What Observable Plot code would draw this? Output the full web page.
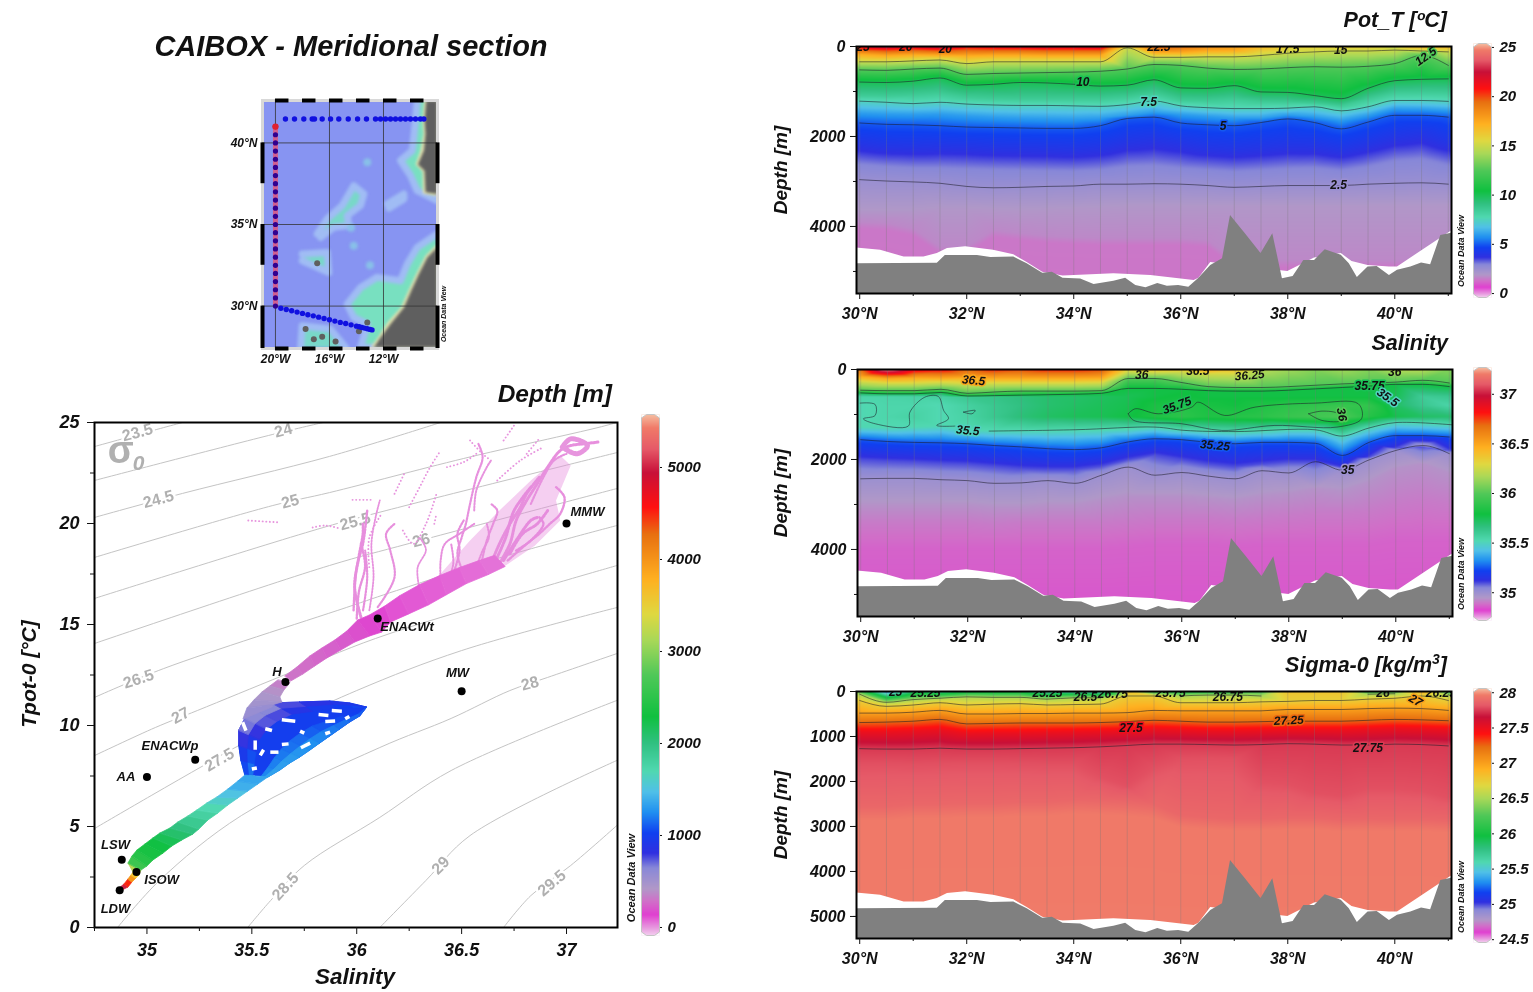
<!DOCTYPE html>
<html><head><meta charset="utf-8">
<script src="https://cdn.jsdelivr.net/npm/d3@7"></script>
<script src="https://cdn.jsdelivr.net/npm/@observablehq/plot@0.6"></script>
<style>
html,body{margin:0;background:#fff}
#page{position:relative;width:1533px;height:992px;overflow:hidden;background:#fff;font-family:"Liberation Sans",Arial,sans-serif;font-weight:bold;font-style:italic;color:#111;filter:blur(.35px)}
#page svg{position:absolute;background:transparent;overflow:visible}
.t{position:absolute;white-space:nowrap;line-height:1}
</style></head><body><div id="page"></div>
<script>
// ---------- shared colour ramp (fraction of colour bar -> colour) ----------
const rampAt=[0,.013,.04,.066,.09,.13,.158,.197,.237,.276,.316,.37,.42,.5,.566,.618,.684,.77,.822,.888,.934,.974,1];
const rampColor=["#f4d0f0","#e8a0e0","#e040d0","#d070c8","#b098c8","#8888d8","#3030e0","#1040f0","#2090f0","#50c0e8","#50d8b0","#30c080","#10c040","#50c858","#a8d858","#e0d840","#ffb020","#e87010","#ff1010","#c81038","#e65a68","#f07a68","#f5bda0"];
const fontCss={fontFamily:'"Liberation Sans",Arial,sans-serif',fontWeight:"bold",fontStyle:"italic",color:"#111",background:"transparent"};

// ---------- section stations ----------
const lats=[30,30.5,31,31.5,32,32.5,33,33.5,34,34.5,35,35.5,36,36.5,37,37.5,38,38.5,39,39.5,40,40.5,41];
const seabedLat=[29.94,31.45,31.6,32.2,32.45,32.88,33.13,33.42,33.6,33.8,34.13,34.38,34.75,34.97,35.16,35.35,35.57,35.75,35.96,36.15,36.34,36.56,36.78,36.93,37.2,37.5,37.72,37.9,38.1,38.3,38.5,38.7,39,39.15,39.3,39.5,39.67,39.9,40.05,40.3,40.5,40.67,40.86,41.06];
const seabedDepth=[4830,4815,4644,4644,4690,4680,4830,5040,5020,5150,5165,5290,5220,5150,5310,5360,5270,5330,5310,5350,5150,4870,4720,3756,4150,4600,4160,5160,5110,4755,4755,4515,4640,4830,5135,4900,4890,5090,4975,4900,4810,4850,4200,4150];
const dataEndLat=[29.94,30.39,30.83,31.2,31.45,31.64,31.98,32.5,32.88,33.13,33.42,33.8,34.75,35.44,36.25,36.34,36.56,38,38.5,39,39.2,39.5,39.9,40.05,41.06];
const dataEndDepth=[4480,4530,4680,4680,4600,4490,4450,4530,4630,4800,5020,5100,5050,5090,5200,5150,4800,5000,4700,4600,4780,4870,4900,4900,4100];

// ---------- potential temperature: surface value + depth of each isotherm per station ----------
const tSurface=[21,23,22,23,21,21.5,22,22.5,22,22.5,15.5,20,19.5,18.5,18,17,16,16,16,16,15,17,17];
const t20=[70,90,70,90,60,70,70,80,80,80,null,null,null,null,null,null,null,null,null,null,null,null,null];
const t175=[170,200,180,190,200,190,190,200,200,200,null,130,130,90,80,null,null,null,null,null,null,null,null];
const t15=[340,340,320,300,380,340,340,340,340,340,30,240,240,230,230,200,150,120,100,100,80,100,120];
const t125=[520,530,500,480,620,600,590,580,570,550,500,400,420,480,510,500,470,450,460,440,380,200,420];
const t10=[790,800,770,700,860,840,800,810,840,880,860,740,920,930,870,1010,1020,1090,1160,930,760,730,720];
const t85=[1090,1100,1080,1040,1130,1160,1170,1170,1170,1170,1130,1040,1200,1210,1170,1230,1240,1260,1320,1170,1030,1020,1030];
const t75=[1215,1240,1270,1240,1280,1300,1310,1310,1320,1330,1290,1210,1320,1360,1380,1380,1370,1340,1430,1340,1200,1200,1220];
const t6=[1480,1500,1510,1500,1540,1570,1590,1600,1610,1590,1530,1460,1510,1550,1590,1590,1520,1560,1640,1530,1380,1390,1420];
const t5=[1700,1730,1740,1760,1790,1800,1810,1820,1820,1760,1600,1570,1700,1740,1760,1690,1610,1690,1830,1680,1530,1530,1570];
const t4=[2180,2250,2260,2240,2250,2280,2290,2300,2320,2280,2150,2100,2180,2280,2320,2280,2230,2240,2330,2200,2050,1980,2170];
const t3=[2600,2650,2680,2680,2700,2720,2730,2740,2750,2720,2640,2620,2680,2720,2760,2730,2690,2680,2740,2650,2520,2480,2620];
const t25=[2960,2990,3010,3040,3110,3140,3130,3110,3100,3060,3060,3050,3060,3090,3130,3110,3090,3090,3090,3060,3040,3030,3060];
const t2=[3650,3650,3650,3600,3600,3620,3640,3620,3600,3580,3550,3550,3550,3550,3550,3550,3550,3550,3550,3550,3550,3550,3550];
const tDeepUpper=[3900,3930,4050,4450,4450,4080,4150,4210,4240,4260,4260,4260,4260,4300,4750,4750,4750,4750,4750,4750,4750,4750,4750];
const tDeepLower=[4050,4080,4200,4600,4600,4230,4300,4360,4390,4410,4410,4410,4410,4450,4900,4900,4900,4900,4900,4900,4900,4900,4900];
const tLabelText=["25","20","20","22.5","17.5","15","12.5","10","7.5","5","2.5"];
const tLabelLat=[30.06,30.86,31.6,35.59,38,38.99,40.58,34.17,35.4,36.79,38.95];
const tLabelDepth=[22,22,67,22,67,89,222,800,1244,1778,3089];
const tLabelRot=[0,0,0,0,0,0,-35,0,0,0,0];

// ---------- salinity ----------
const sSurface=[36.7,37.2,36.9,36.85,36.7,36.8,36.75,36.8,36.8,36.75,36.3,36.4,36.35,36.5,36.4,36.2,36.15,36.1,36.15,36.1,36.2,36.2,36.1];
const s365=[150,200,180,190,170,190,190,190,190,180,null,null,null,null,null,null,null,null,null,null,null,null,null];
const s3625=[280,320,320,300,330,320,320,320,320,310,50,70,60,110,120,null,null,null,null,null,null,null,null];
const s36=[460,470,470,440,530,500,480,480,480,470,200,200,290,380,400,400,380,350,320,300,280,240,300];
const s3575=[520,540,540,510,590,580,570,560,550,530,420,420,440,470,480,480,460,430,400,370,330,330,380];
const sAt600=[35.55,35.55,35.56,35.57,35.62,35.64,35.67,35.7,35.71,35.73,35.75,35.78,35.8,35.78,35.78,35.78,35.78,35.78,35.78,35.78,35.75,35.6,35.62];
const sAt800=[35.52,35.54,35.54,35.52,35.57,35.62,35.66,35.7,35.72,35.74,35.76,35.82,35.86,35.82,35.8,35.84,35.88,35.9,35.92,35.9,35.72,35.62,35.55];
const sAt1050=[35.52,35.54,35.56,35.52,35.56,35.62,35.68,35.72,35.74,35.75,35.78,35.84,35.88,35.84,35.86,35.88,35.92,35.95,35.98,35.86,35.76,35.72,35.7];
const s355=[1280,1300,1280,1260,1330,1370,1370,1370,1360,1350,1330,1290,1350,1380,1400,1380,1340,1340,1480,1300,1180,1200,1230];
const s3525=[1560,1600,1620,1630,1650,1690,1720,1760,1780,1740,1610,1540,1560,1620,1650,1620,1620,1640,1910,1620,1470,1470,1500];
const s351=[2000,2030,2050,2080,2100,2150,2200,2220,2220,2150,2000,1900,2000,2100,2160,2100,2050,2050,2180,1950,1750,1720,1800];
const s35=[2430,2420,2420,2450,2470,2530,2520,2470,2530,2350,2170,2350,2290,2370,2430,2250,2300,2050,2240,2010,1800,1690,1870];
const s3494=[3000,3000,3000,3000,3000,3050,3050,3000,3000,2900,2800,2800,2800,2850,2900,2800,2750,2650,2700,2500,2200,2100,2300];
const s3489=[3400,3400,3400,3400,3400,3450,3400,3400,3400,3400,3350,3300,3300,3300,3350,3300,3250,3200,3200,3150,3000,2900,3000];
const s3486=[4000,4000,4000,4000,4000,4000,4000,4000,4000,4000,3950,3900,3900,3900,3950,3900,3900,3900,3900,3900,3800,3800,3800];
const sLoop355=[[29.99,747],[30.27,777],[30.27,1021],[30.05,1095],[30.27,1206],[30.89,1258],[30.92,947],[31.2,614],[31.45,599],[31.55,910],[31.64,1095],[31.42,1243],[31.76,1258]];
const sLine355=[[32.4,1369],[34.01,1339],[35.5,1280],[36.06,1354],[37,1380],[38.5,1340],[39,1480],[39.5,1300],[40,1180],[41.06,1230]];
const sLoop3575=[[35,984],[35.13,873],[35.56,984],[36.19,836],[36.3,725],[36.8,1021],[37.37,836],[38.5,747],[39.3,762],[39.36,1095],[38.9,1280],[37.74,1243],[36.75,1354],[36,1206],[35.1,1130],[35,984]];
const sLoop36=[[38.37,984],[38.62,925],[38.93,984],[38.99,1132],[38.62,1132],[38.37,984]];
const sLoopSmall=[[31.92,947],[32.14,910],[32.08,984],[31.92,947]];
const sLabelText=["36.5","36","36.5","36.25","35.75","35.75","35.5","36","36","35.5","35.25","35"];
const sLabelLat=[32.11,35.25,36.3,37.27,35.91,39.51,39.85,39.98,38.99,32,36.62,39.1];
const sLabelDepth=[244,133,44,133,800,378,622,67,1000,1356,1689,2244];
const sLabelRot=[5,0,0,-5,-20,0,35,0,80,5,5,0];

// ---------- sigma-0 ----------
const gSurface=[26.3,25.3,25.8,25.7,25.9,25.9,25.9,25.6,25.6,25.5,26.8,26.1,26,26,26,26.2,26.8,26.8,26.8,26.1,26.2,26.9,26.1];
const g265=[60,240,180,150,120,130,130,170,140,140,null,null,100,80,80,100,null,null,null,60,50,null,70];
const g2675=[200,330,300,250,300,280,270,300,290,280,100,100,250,250,250,230,220,200,200,170,150,100,200];
const g270=[480,480,460,420,500,500,490,490,480,480,470,420,430,430,430,430,400,400,400,380,370,380,420];
const g2725=[690,680,660,620,720,710,700,700,700,690,670,640,660,680,680,670,660,660,660,640,620,630,650];
const g275=[900,900,880,850,930,920,920,910,900,890,880,840,860,880,880,870,860,860,860,840,820,830,850];
const g2775=[1270,1280,1280,1260,1280,1280,1270,1260,1250,1230,1200,1170,1170,1180,1190,1180,1160,1170,1190,1190,1170,1180,1210];
const g278=[1610,1600,1620,1600,1590,1590,1600,1620,1620,1900,2100,1700,1500,1480,1500,2000,2050,2250,2320,2150,2150,2200,2350];
const g2788=[2550,2550,2500,2500,2480,2480,2450,2450,2400,2420,2450,2500,2750,2800,2830,2830,2800,2800,2850,2830,2840,2840,2870];
const g2795=[2850,2850,2800,2800,2780,2780,2750,2750,2700,2720,2750,2800,3000,3050,3080,3080,3050,3050,3100,3080,3090,3090,3120];
const gLabelText=["25","25.25","25.25","26.5","26.75","25.75","26.75","27.25","27.5","27.75","26","27","26.25"];
const gLabelLat=[30.67,31.23,33.51,34.22,34.73,35.81,36.88,38.02,35.07,39.5,39.78,40.39,40.86];
const gLabelDepth=[22,44,44,133,66,44,133,644,822,1267,44,200,44];
const gLabelRot=[0,0,0,0,0,0,0,-3,0,0,0,30,0];

// ---------- T-S diagram: isopycnals [salinity, temperature] ----------
const iso235=[[34.75,23.81],[35.08,24.75],[35.17,25]];
const iso24=[[34.75,22.13],[35.6,24.41],[35.84,25]];
const iso245=[[34.75,20.3],[35.17,21.49],[35.87,23.32],[36.4,25]];
const iso25=[[34.75,18.32],[35.6,20.89],[35.87,21.53],[36.51,23.22],[37.15,24.75],[37.24,25]];
const iso255=[[34.75,16.29],[35.84,19.8],[36.14,20.64],[37.24,23.51]];
const iso26=[[34.75,14.06],[35.87,17.92],[36.25,19.01],[37.24,21.73]];
const iso265=[[34.75,11.39],[35.08,12.82],[35.95,15.84],[36.19,16.68],[36.72,18.42],[37.24,19.9]];
const iso27=[[34.75,8.51],[35.04,9.9],[35.24,10.74],[35.65,12.48],[36.09,14.31],[36.72,16.34],[37.24,17.92]];
const iso275=[[34.75,4.9],[35.02,6.53],[35.27,8.02],[35.43,8.96],[36,11.73],[36.5,13.71],[37.24,15.84]];
const iso28=[[34.86,0],[35.06,2.33],[35.45,5.54],[36.11,8.91],[36.45,10.35],[36.73,11.73],[36.91,12.38],[37.24,13.56]];
const iso285=[[35.48,0],[35.59,1.34],[35.75,3.07],[36.11,5.45],[36.45,7.77],[37.24,11.24]];
const iso29=[[36.11,0],[36.33,2.33],[36.54,4.55],[37.24,8.27]];
const iso295=[[36.7,0],[36.83,1.58],[37.02,3.07],[37.24,5.05]];
const isoLabelText=["23.5","24","24.5","25","25.5","26","26.5","27","27.5","28","28.5","29","29.5"];
const isoLabelS=[34.955,35.65,35.055,35.683,35.993,36.307,34.96,35.16,35.345,36.826,35.66,36.4,36.93];
const isoLabelT=[24.5,24.6,21.2,21.09,20.1,19.17,12.3,10.49,8.3,12.08,2.03,3.07,2.2];
const isoLabelRot=[-15,-15,-15,-15,-15,-15,-18,-28,-30,-15,-48,-45,-40];

// water masses
const massName=["MMW","ENACWt","H","MW","ENACWp","AA","LSW","ISOW","LDW"];
const massS=[37,36.1,35.66,36.5,35.23,35,34.88,34.95,34.87];
const massT=[20,15.3,12.15,11.7,8.3,7.45,3.35,2.75,1.85];
const massLabelS=[37.1,36.24,35.62,36.48,35.11,34.9,34.85,35.07,34.85];
const massLabelT=[20.6,14.9,12.67,12.62,9,7.48,4.1,2.38,.94];

// T-S cloud: cross sections of the dense ribbon [S1,T1,S2,T2,depth]
const ribbonDeep=[
[34.864,1.88,34.883,1.83,5000],[34.893,2.13,34.912,1.98,4500],[34.912,2.38,34.931,2.23,4000],[34.926,2.57,34.95,2.43,3600],[34.936,2.72,34.964,2.57,3200],
[34.912,3.17,34.974,2.82,2600],[34.931,3.51,35.002,3.02,2450],[34.955,3.81,35.031,3.32,2350],[34.993,4.11,35.079,3.66,2280],[35.031,4.41,35.121,4.01,2200],
[35.064,4.65,35.169,4.31,2100],[35.112,4.9,35.221,4.6,2000],[35.15,5.2,35.25,4.85,1900],[35.198,5.5,35.293,5.3,1800],[35.24,5.79,35.34,5.64,1700],
[35.288,6.14,35.388,6.04,1600],[35.336,6.44,35.436,6.39,1500],[35.388,6.83,35.483,6.73,1400],[35.436,7.23,35.531,7.08,1350],[35.469,7.52,35.579,7.43,1300]];
const ribbonNeck=[[35.626,12.23,35.683,12.08,340],[35.588,11.93,35.655,11.73,400],[35.55,11.63,35.636,11.39,450],[35.512,11.24,35.645,11.14,500],[35.479,10.84,35.598,10.99,560],[35.46,10.3,35.6,10.9,620]];
const ribbonPink=[
[35.66,12.43,35.688,12.18,300],[35.717,12.87,35.745,12.52,280],[35.779,13.42,35.802,12.92,260],[35.836,13.81,35.86,13.32,240],[35.898,14.21,35.926,13.71,220],
[35.955,14.65,35.993,14.11,190],[36.007,15.2,36.064,14.41,160],[36.064,15.45,36.121,14.6,130],[36.136,15.89,36.164,15.1,110],[36.207,16.4,36.25,15.5,100],
[36.302,16.95,36.345,15.95,90],[36.398,17.4,36.43,16.45,80],[36.493,17.8,36.525,17,70],[36.588,18.15,36.63,17.45,60],[36.66,18.4,36.71,17.85,50]];
// blob outline pairs [lowerS,lowerT,upperS,upperT] and depth along its lower and upper edges
const blobEdge=[[35.58,7.43,35.469,7.52],[35.636,7.77,35.45,8.26],[35.683,8.12,35.44,9],[35.73,8.41,35.44,9.75],[35.779,8.76,35.469,10.34],[35.826,9.11,35.517,10.74],[35.874,9.46,35.598,11.09],[35.921,9.8,35.73,11.14],[35.969,10.15,35.874,11.19],[36.017,10.45,35.969,11.09],[36.05,10.89,36.05,10.89]];
const blobLowerDepth=[1340,1320,1300,1280,1260,1230,1200,1170,1140,1110,1080];
const blobUpperDepth=[1050,950,800,680,620,640,760,850,900,930,950];
const blobHoles=[[35.643,10.28,35.707,10.21],[35.818,10.54,35.865,10.5],[35.881,10.74,35.929,10.71],[35.85,10.2,35.897,10.22],[35.945,10.33,35.965,10.45],[35.456,10.16,35.472,9.75],[35.516,9.26,35.516,8.8],[35.54,8.52,35.556,8.8],[35.588,8.68,35.627,8.68],[35.643,9.06,35.675,9.09],[35.734,8.9,35.778,9.13],[35.73,9.72,35.75,9.62],[35.564,9.84,35.596,9.75],[35.85,9.59,35.873,9.67],[35.5,7.85,35.524,7.9]];
// surface fan filaments [S,T]
const fanMass=[[36.35,16.93],[36.54,19.16],[36.68,20.64],[36.83,22.13],[36.97,23.37],[37.02,22.87],[36.95,21.14],[36.97,20.15],[36.85,18.91],[36.71,17.92]];
const fanF1=[[36.67,17.84],[36.73,18.99],[36.76,20.15],[36.81,21.14],[36.86,21.96],[36.91,22.79],[36.97,23.61],[37.02,23.86],[37.08,23.94],[37.15,24.03]];
const fanF2=[[36.72,18.17],[36.81,18.99],[36.87,19.49],[36.92,19.98],[36.97,20.48],[36.99,21.3],[36.95,21.8]];
const fanF3=[[36.64,18],[36.68,18.99],[36.73,19.98],[36.78,20.81],[36.81,21.47],[36.87,22.29]];
const fanF4=[[36.7,18.17],[36.76,19.16],[36.83,20.15],[36.86,20.3]];
const fanF5=[[36.51,17.51],[36.48,18.5],[36.5,19.3],[36.52,19.98],[36.54,20.97],[36.57,22.29],[36.6,23.28],[36.58,23.94]];
const fanF6=[[36.4,17.18],[36.4,18.17],[36.42,18.99],[36.49,19.49],[36.56,19.98]];
const fanF7=[[36.59,17.84],[36.62,19.16],[36.65,19.98],[36.67,20.64],[36.64,20.97]];
const fanF8=[[36.02,15.37],[35.99,16.85],[36.01,18.33],[36.03,19.49],[36.03,19.98]];
const fanF9=[[36.06,15.7],[36.08,17.34],[36.07,18.99],[36.09,20.31],[36.11,21.14]];
const fanF10=[[36.1,15.86],[36.18,17.34],[36.16,18.66],[36.14,19.49],[36.18,19.98]];
const fanF11=[[36.73,18.5],[36.79,19.49],[36.86,19.98],[36.91,20.64]];
const fanF12=[[36.67,18.33],[36.71,19.3],[36.75,20.64],[36.83,21.8]];
const fanF13=[[36.98,23.78],[37.05,23.45],[37.1,23.86],[37.02,24.19],[36.98,23.78]];
const fanF14=[[36.3,16.7],[36.29,17.8],[36.33,18.7],[36.3,19.3]];
const fanF15=[[36,15.3],[36.01,16.6],[36.04,17.9],[36.02,19]];
const fanF16=[[36.57,17.84],[36.6,18.66],[36.63,19.32],[36.62,19.98]];
const fanF17=[[36.76,18.66],[36.83,19.16],[36.89,19.98],[36.87,20.31]];
const fanF18=[[36.83,20.97],[36.89,22.29],[36.94,23.12],[37,23.45]];
const fanF19=[[36.46,17.51],[36.49,18.66],[36.48,19.49],[36.51,20.15]];
const fanF20=[[36.43,17.01],[36.46,18],[36.45,18.99]];
const fanF21=[[35.985,15.7],[36,17.84],[36.03,18.99],[36.05,20.64]];
const fanF22=[[36.03,15.7],[36.05,17.34],[36.04,18.66]];
const fanF23=[[36.56,20.64],[36.57,21.63],[36.62,22.79],[36.64,23.12]];
const dotD1=[[36.18,21.47],[36.23,22.54]];
const dotD2=[[36.25,20.81],[36.3,21.8],[36.35,22.79],[36.4,23.61]];
const dotD3=[[36.22,19.65],[36.27,18.99],[36.33,19.98],[36.38,21.47]];
const dotD4=[[36.37,19.98],[36.38,20.48]];
const dotD5=[[36.54,24.11],[36.6,23.45],[36.64,23.12]];
const dotD6=[[36.7,24.11],[36.75,24.85]];
const dotD7=[[36.81,23.45],[36.87,24.2]];
const dotD8=[[36.67,22.13],[36.78,23.12],[36.89,23.78]];
const dotD9=[[36.43,22.79],[36.51,23.04],[36.57,23.45]];
const dotD10=[[35.98,21.17],[36.07,21.17]];
const dotD11=[[35.483,20.15],[35.636,20.05]];
const dotD12=[[35.79,19.8],[35.85,19.9],[35.92,19.75]];
const dotD13=[[36.06,17.84],[36.06,19.3],[36.12,20.5]];

// ---------- station map ----------
const topRowLon=[-19.26,-18.59,-17.9,-17.28,-17.11,-16.54,-15.92,-15.31,-14.61,-13.92,-13.26,-12.59,-12.22,-11.85,-11.48,-11.11,-10.74,-10.37,-10,-9.63,-9.26,-9.01];
const meridianLat=[41,40.5,40,39.5,39,38.5,38,37.5,37,36.5,36,35.5,35,34.5,34,33.5,33,32.5,32,31.5,31,30.5,30];
const slantLon=[-19.6,-19.2,-18.8,-18.4,-18,-17.6,-17.2,-16.8,-16.4,-16,-15.6,-15.2,-14.8,-14.4,-14,-13.8,-13.6,-13.4,-13.2,-13,-12.85];
const slantLat=[29.87,29.79,29.71,29.63,29.55,29.47,29.4,29.32,29.24,29.16,29.08,29,28.93,28.85,28.77,28.73,28.69,28.65,28.61,28.57,28.54];
const iberia=[[-8.84,42.6],[-8.96,41.37],[-8.89,40.55],[-9.01,39.53],[-9.45,38.67],[-8.96,38.3],[-8.89,36.97],[-8.02,36.87],[-8.02,42.6]];
const africa=[[-8.02,33.6],[-8.76,32.98],[-9.38,31.96],[-9.95,30.94],[-10.49,29.92],[-11.48,28.9],[-12.22,28.08],[-12.71,27.46],[-8.02,27.46]];
const africaPale=[[-8.02,33.8],[-8.88,33.08],[-9.55,32],[-10.15,30.94],[-10.7,29.92],[-11.7,29],[-12.4,28.08],[-12.95,27.46],[-8.02,27.46]];
const africaShelf=[[-8.02,34.42],[-9.5,33.6],[-10.24,32.58],[-10.74,31.55],[-12.47,31.76],[-13.7,31.14],[-14.69,30.12],[-14.2,29.3],[-13.2,28.89],[-13.7,27.46],[-8.02,27.46]];
const iberiaPale=[[-8.98,42.6],[-9.1,41.37],[-9.03,40.55],[-9.25,39.53],[-9.62,38.67],[-9.1,38.25],[-9.07,36.9],[-8.02,36.75],[-8.02,42.6]];
const iberiaShelf=[[-9.5,42.6],[-9.63,41.37],[-9.87,39.53],[-10.74,38.92],[-10,38],[-9.5,37.07],[-8.02,36.46],[-8.02,42.6]];
const gorringe=[[-11.72,36.26],[-10.49,36.87],[-10.49,36.56],[-11.6,36]];
const josephine=[[-16.91,34.42],[-16.17,35.34],[-15.06,36.16],[-14.2,37.38],[-13.45,36.87],[-13.7,36.16],[-14.69,35.54],[-14.56,34.93],[-15.68,34.83],[-16.66,34.21]];
const madeiraShelf=[[-18.02,33.19],[-16.17,33.29],[-16.05,32.06],[-17.16,32.47],[-18.02,32.78]];
const canaryShelf=[[-18.14,27.46],[-18.02,28.79],[-15.92,28.59],[-14.81,27.46]];
const islands=[[-16.91,32.62],[-17.77,28.59],[-17.16,27.97],[-16.54,28.12],[-15.55,27.83],[-13.82,28.45],[-13.2,29]];
const shoals=[[-13.2,38.81],[-14.2,33.7],[-13,32.5],[-14.4,34.8]];

// ---------- helpers ----------
const page=document.getElementById("page");
function put(svg){
  svg.querySelectorAll("text").forEach(n=>{if(n.textContent.includes("\u26a0"))n.remove();});
  page.appendChild(svg);
}
function text(html,x,y,size,{anchor="left",rotate=0,color="#111"}={}){
  const el=document.createElement("div");el.className="t";el.innerHTML=html;
  el.style.left=x+"px";el.style.top=y+"px";el.style.fontSize=size+"px";el.style.color=color;
  const tx=anchor==="center"?"-50%":anchor==="right"?"-100%":"0";
  el.style.transform=`translate(${tx},-50%) rotate(${rotate}deg)`;
  page.appendChild(el);
}
const colorScale=(lo,hi)=>({type:"linear",domain:rampAt.map(t=>lo+t*(hi-lo)),range:rampColor,clamp:true});
// edge stations are repeated just outside the frame so the raster has no extrapolated rim
const samples=rows=>rows.flatMap(({d,v})=>lats.flatMap((lat,i)=>{
  const depth=typeof d==="number"?d:d[i];const val=typeof v==="number"?v:v[i];
  if(depth==null) return [];
  const out=[{lat,depth,v:val}];
  if(i===0) out.push({lat:29.8,depth,v:val});
  if(i===lats.length-1) out.push({lat:41.2,depth,v:val});
  return out;}));

function colorbar({left,top,h,lo,hi,ticks}){
  const c=(hi-lo)*3.5/h, w=18;
  const corner=(pts)=>Plot.line(pts,{x:p=>p[0],y:p=>p[1],fill:"#fff",stroke:"none"});
  put(Plot.plot({width:w+62,height:h+8,marginLeft:0,marginRight:62,marginTop:4,marginBottom:4,
    style:{...fontCss,left:left+"px",top:(top-4)+"px",fontSize:"15px"},
    x:{domain:[0,1],axis:null},y:{domain:[lo,hi]},color:colorScale(lo,hi),
    marks:[
      Plot.raster({x1:0,x2:1,y1:lo,y2:hi,fill:(x,y)=>y}),
      corner([[0,hi],[.28,hi],[0,hi-c]]),corner([[1,hi],[.72,hi],[1,hi-c]]),
      corner([[0,lo],[.28,lo],[0,lo+c]]),corner([[1,lo],[.72,lo],[1,lo+c]]),
      Plot.line([[0,hi-c],[.28,hi],[.72,hi],[1,hi-c],[1,lo+c],[.72,lo],[.28,lo],[0,lo+c],[0,hi-c]],{x:p=>p[0],y:p=>p[1],stroke:"#c4c4c4",strokeWidth:1}),
      Plot.axisY({anchor:"right",ticks,tickSize:2,tickPadding:6,tickFormat:d=>String(d),label:null,fill:"#111"})
    ]}));
}

function section({left,top,lo,hi,rows,contours,extra=[],labels,barTicks}){
  const W=595,H=247;
  const [lt,la,ld,lr]=labels;
  const labelRows=lt.map((s,i)=>({s,lat:la[i],depth:ld[i],rot:lr[i]}));
  put(Plot.plot({width:W+70,height:H+50,marginLeft:60,marginRight:10,marginTop:10,marginBottom:40,
    style:{...fontCss,left:(left-60)+"px",top:(top-10)+"px",fontSize:"16px"},
    x:{domain:[29.94,41.06],label:null},y:{domain:[5490,0],label:null},color:colorScale(lo,hi),
    marks:[
      Plot.raster(samples(rows),{x:"lat",y:"depth",fill:"v",interpolate:"barycentric"}),
      Plot.ruleX(lats,{y1:0,y2:5490,stroke:"#777",strokeOpacity:.3,strokeWidth:1}),
      ...contours.map(a=>Plot.line(a.map((d,i)=>({lat:lats[i],d})),{x:"lat",y:"d",stroke:"#1c1c28",strokeOpacity:.55,strokeWidth:1,curve:"monotone-x"})),
      ...extra.map(a=>Plot.line(a,{x:p=>p[0],y:p=>p[1],stroke:"#1c1c28",strokeOpacity:.55,strokeWidth:1,curve:"catmull-rom"})),
      Plot.areaY(dataEndLat.map((x,i)=>({x,y:dataEndDepth[i]})),{x:"x",y1:"y",y2:()=>5490,fill:"#fff"}),
      Plot.areaY(seabedLat.map((x,i)=>({x,y:seabedDepth[i]})),{x:"x",y1:"y",y2:()=>5490,fill:"#808080"}),
      Plot.text(labelRows.filter(d=>d.depth>=200),{x:"lat",y:"depth",text:"s",rotate:"rot",fill:"#111",stroke:d=>+d.s,strokeWidth:3,fontSize:12,clip:"frame"}),
      Plot.text(labelRows.filter(d=>d.depth<200),{x:"lat",y:"depth",text:"s",rotate:"rot",fill:"#111",fontSize:12,clip:"frame"}),
      Plot.frame({stroke:"#000",strokeWidth:2}),
      Plot.axisX({anchor:"bottom",ticks:[30,32,34,36,38,40],tickSize:6,tickPadding:8,tickFormat:d=>d+"°N",label:null,fill:"#111"}),
      Plot.axisX({anchor:"bottom",ticks:[31,33,35,37,39,41],tickSize:3,fill:"none",label:null}),
      Plot.axisY({anchor:"left",ticks:barTicks,tickSize:6,tickPadding:5,tickFormat:d=>String(d),label:null,fill:"#111"}),
      Plot.axisY({anchor:"left",ticks:[1000,3000,5000],tickSize:3,fill:"none",label:null})
    ]}));
}

// ---------- titles ----------
text("CAIBOX - Meridional section",351,46,29,{anchor:"center"});
text("Depth [m]",612,394,24.5,{anchor:"right"});
text("Pot_T [ºC]",1447,21,21.5,{anchor:"right"});
text("Salinity",1448,344,21.5,{anchor:"right"});
text("Sigma-0 [kg/m<sup style='font-size:14px;line-height:0'>3</sup>]",1447,666,21.5,{anchor:"right"});
text("Tpot-0 [°C]",28,674,21,{anchor:"center",rotate:-90});
text("Salinity",355,977,22.5,{anchor:"center"});
text("Depth [m]",780,170,19,{anchor:"center",rotate:-90});
text("Depth [m]",780,493,19,{anchor:"center",rotate:-90});
text("Depth [m]",780,815,19,{anchor:"center",rotate:-90});
text("Ocean Data View",1461,251,9,{anchor:"center",rotate:-90});
text("Ocean Data View",1461,574,9,{anchor:"center",rotate:-90});
text("Ocean Data View",1461,897,9,{anchor:"center",rotate:-90});
text("Ocean Data View",631,878,11,{anchor:"center",rotate:-90});
text("Ocean Data View",443,314,7,{anchor:"center",rotate:-90});

// ---------- station map ----------
const poly=(pts,fill,halo)=>Plot.line(pts,{x:p=>p[0],y:p=>p[1],fill,stroke:halo||"none",strokeWidth:halo?7:0,imageFilter:"blur(1.5px)",clip:"frame"});
const bars=(arr,at,dir)=>arr.map(([a,b])=>dir==="x"?Plot.ruleY([at],{x1:a,x2:b,stroke:"#000",strokeWidth:4}):Plot.ruleX([at],{y1:a,y2:b,stroke:"#000",strokeWidth:4}));
const lonBars=[[-20,-19],[-18,-17],[-16,-15],[-14,-13],[-12,-11],[-10,-9]];
const latBars=[[37.5,40],[32.5,35],[27.4,30]];
put(Plot.plot({width:175+60,height:248+34,marginLeft:50,marginRight:10,marginTop:6,marginBottom:28,
  style:{...fontCss,left:(262-50)+"px",top:(100-6)+"px",fontSize:"12px"},
  x:{domain:[-20.96,-8],label:null},y:{domain:[27.4,42.6],label:null},
  marks:[
    Plot.frame({fill:"#8794f2"}),
    poly(josephine,"#78d8c8","#a0bcf4"),poly(gorringe,"#78d8c8","#a0bcf4"),poly(madeiraShelf,"#78d8c8","#a0bcf4"),poly(canaryShelf,"#78d8c8","#a0bcf4"),
    Plot.dot(shoals,{x:p=>p[0],y:p=>p[1],r:4,fill:"#88c0e8",imageFilter:"blur(1.5px)"}),
    poly(iberiaShelf,"#78e0c0","#a0bcf4"),poly(africaShelf,"#78e0c0","#a0bcf4"),
    poly(iberiaPale,"#e8e4b0"),poly(africaPale,"#e8e4b0"),
    poly(iberia,"#5f5f5f"),poly(africa,"#5f5f5f"),
    Plot.frame({stroke:"#d8d8d8",strokeWidth:3}),
    Plot.dot(islands,{x:p=>p[0],y:p=>p[1],r:3,fill:"#5f5f5f"}),
    Plot.ruleX([-20,-16,-12],{stroke:"#333",strokeWidth:.8}),
    Plot.ruleY([30,35,40],{stroke:"#333",strokeWidth:.8}),
    Plot.ruleX([-20],{y1:30,y2:41,stroke:"#d06090",strokeWidth:5}),
    Plot.dot(meridianLat,{x:()=>-20,y:d=>d,r:2.6,fill:"#300090"}),
    Plot.dot(topRowLon,{x:d=>d,y:()=>41.47,r:2.7,fill:"#1010e0"}),
    Plot.dot(slantLon,{x:d=>d,y:(d,i)=>slantLat[i],r:2.7,fill:"#1010e0"}),
    Plot.dot([[-20,41]],{x:p=>p[0],y:p=>p[1],r:3.2,fill:"#e02030"}),
    ...bars(lonBars,42.6,"x"),...bars(lonBars,27.4,"x"),...bars(latBars,-20.96,"y"),...bars(latBars,-8,"y"),
    Plot.axisX({anchor:"bottom",ticks:[-20,-16,-12],tickSize:0,tickPadding:6,tickFormat:d=>Math.abs(d)+"°W",label:null,fill:"#111"}),
    Plot.axisY({anchor:"left",ticks:[30,35,40],tickSize:0,tickPadding:5,tickFormat:d=>d+"°N",label:null,fill:"#111"})
  ]}));

// ---------- T-S diagram ----------
// adjacent cross sections form one filled quad, coloured by the depth of the first one
const quads=rows=>Plot.area(rows.slice(0,-1).flatMap((r,q)=>[r,rows[q+1]].map(p=>({x1:p[0],y1:p[1],x2:p[2],y2:p[3],d:r[4],q}))),{x1:"x1",y1:"y1",x2:"x2",y2:"y2",z:"q",fill:"d",stroke:"d",strokeWidth:.8});
const fan=(pts,depth,w)=>Plot.line(pts,{x:p=>p[0],y:p=>p[1],stroke:()=>depth,strokeWidth:w,strokeLinecap:"round",strokeDasharray:"1.6 1.4",curve:"catmull-rom"});
const dotted=(pts)=>Plot.line(pts,{x:p=>p[0],y:p=>p[1],stroke:()=>4,strokeWidth:1.9,strokeDasharray:"0.1 3.5",strokeLinecap:"round",curve:"catmull-rom"});
// strips of the blob along its lower and upper edges, as a fraction of its width
const lowerStrip=(f,extra)=>blobEdge.map((r,i)=>[r[0],r[1],r[0]+(r[2]-r[0])*f,r[1]+(r[3]-r[1])*f,blobLowerDepth[i]+extra]);
const upperStrip=(f,extra)=>blobEdge.map((r,i)=>[r[2],r[3],r[2]+(r[0]-r[2])*f,r[3]+(r[1]-r[3])*f,blobUpperDepth[i]+extra]);
const isoRows=isoLabelText.map((s,i)=>({s,S:isoLabelS[i],T:isoLabelT[i],r:isoLabelRot[i]}));
const massRows=massName.map((s,i)=>({s,S:massS[i],T:massT[i],lS:massLabelS[i],lT:massLabelT[i]}));
const fans=[[fanF1,14,3],[fanF2,14,2.4],[fanF3,14,3],[fanF4,18,3],[fanF5,10,2.2],[fanF6,12,2],[fanF7,12,2.2],[fanF8,14,3],[fanF9,10,1.8],[fanF10,12,2.2],[fanF11,18,3],[fanF12,18,3],[fanF13,4,5],[fanF14,10,1.8],[fanF15,14,2.4],[fanF16,14,2],[fanF17,18,2.4],[fanF18,10,2.2],[fanF19,14,2.2],[fanF20,14,2],[fanF21,14,2.4],[fanF22,14,2.2],[fanF23,8,2]];
put(Plot.plot({width:523+76,height:505+50,marginLeft:60,marginRight:16,marginTop:8,marginBottom:42,
  style:{...fontCss,left:(94-60)+"px",top:(422-8)+"px",fontSize:"18px"},
  x:{domain:[34.75,37.243],label:null},y:{domain:[0,25],label:null},color:colorScale(-87,5576),
  marks:[
    ...[iso235,iso24,iso245,iso25,iso255,iso26,iso265,iso27,iso275,iso28,iso285,iso29,iso295].map(a=>Plot.line(a,{x:p=>p[0],y:p=>p[1],stroke:"#c4c4c4",strokeWidth:1,curve:"catmull-rom",clip:"frame"})),
    Plot.text(isoRows,{x:"S",y:"T",text:"s",rotate:"r",fill:"#b0b0b0",stroke:"#fff",strokeWidth:5,fontSize:16,fontStyle:"normal"}),
    Plot.text(["σ"],{x:()=>34.875,y:()=>23.6,fill:"#b0b0b0",fontSize:38,fontStyle:"normal",fontWeight:"bold"}),
    Plot.text(["0"],{x:()=>34.96,y:()=>23,fill:"#b0b0b0",fontSize:21,fontStyle:"italic"}),
    Plot.line(fanMass,{x:p=>p[0],y:p=>p[1],fill:()=>25,fillOpacity:.4,curve:"linear"}),
    ...fans.map(([p,d,w])=>fan(p,d,w)),
    ...[dotD1,dotD2,dotD3,dotD4,dotD5,dotD6,dotD7,dotD8,dotD9,dotD10,dotD11,dotD12,dotD13].map(dotted),
    Plot.area(blobEdge,{x1:r=>r[0],y1:r=>r[1],x2:r=>r[2],y2:r=>r[3],fill:()=>1000}),
    quads(upperStrip(.34,120)),quads(upperStrip(.16,0)),
    quads(lowerStrip(.3,-110)),quads(lowerStrip(.14,0)),
    Plot.link(blobHoles,{x1:r=>r[0],y1:r=>r[1],x2:r=>r[2],y2:r=>r[3],stroke:"#fff",strokeWidth:3.5}),
    quads(ribbonNeck),quads(ribbonPink),quads(ribbonDeep),
    Plot.dot(massRows,{x:"S",y:"T",r:4,fill:"#000"}),
    Plot.text(massRows,{x:"lS",y:"lT",text:"s",fill:"#111",fontSize:13}),
    Plot.frame({stroke:"#000",strokeWidth:2}),
    Plot.axisX({anchor:"bottom",ticks:[35,35.5,36,36.5,37],tickSize:7,tickPadding:9,tickFormat:d=>String(d),label:null,fill:"#111"}),
    Plot.axisX({anchor:"bottom",ticks:[34.75,35.25,35.75,36.25,36.75],tickSize:4,fill:"none",label:null}),
    Plot.axisY({anchor:"left",ticks:[0,5,10,15,20,25],tickSize:7,tickPadding:8,tickFormat:d=>String(d),label:null,fill:"#111"}),
    Plot.axisY({anchor:"left",ticks:[2.5,7.5,12.5,17.5,22.5],tickSize:4,fill:"none",label:null})
  ]}));
colorbar({left:641,top:414,h:521,lo:-87,hi:5576,ticks:[0,1000,2000,3000,4000,5000]});

// ---------- sections ----------
section({left:856,top:46,lo:-.4,hi:25.4,barTicks:[0,2000,4000],
  rows:[{d:0,v:tSurface},{d:t20,v:20},{d:t175,v:17.5},{d:t15,v:15},{d:t125,v:12.5},{d:t10,v:10},{d:t85,v:8.5},{d:t75,v:7.5},{d:t6,v:6},{d:t5,v:5},{d:t4,v:4},{d:t3,v:3},{d:t25,v:2.5},{d:t2,v:1.9},{d:tDeepUpper,v:1.68},{d:tDeepLower,v:1.42},{d:5490,v:1.36}],
  contours:[t15,t125,t10,t75,t5,t25],
  labels:[tLabelText,tLabelLat,tLabelDepth,tLabelRot]});
colorbar({left:1473,top:43,h:254,lo:-.4,hi:25.4,ticks:[0,5,10,15,20,25]});

section({left:857,top:369,lo:34.72,hi:37.27,barTicks:[0,2000,4000],
  rows:[{d:0,v:sSurface},{d:s365,v:36.5},{d:s3625,v:36.25},{d:s36,v:36},{d:s3575,v:35.78},{d:600,v:sAt600},{d:800,v:sAt800},{d:1050,v:sAt1050},{d:s355,v:35.52},{d:s3525,v:35.25},{d:s351,v:35.1},{d:s35,v:35},{d:s3494,v:34.94},{d:s3489,v:34.905},{d:s3486,v:34.87},{d:5490,v:34.85}],
  contours:[s36,s3575,s3525,s35],
  extra:[sLoop355,sLine355,sLoop3575,sLoop36,sLoopSmall],
  labels:[sLabelText,sLabelLat,sLabelDepth,sLabelRot]});
colorbar({left:1473,top:367,h:253,lo:34.72,hi:37.27,ticks:[35,35.5,36,36.5,37]});

section({left:856,top:691,lo:24.46,hi:28.06,barTicks:[0,1000,2000,3000,4000,5000],
  rows:[{d:0,v:gSurface},{d:g265,v:26.5},{d:g2675,v:26.75},{d:g270,v:27},{d:g2725,v:27.25},{d:g275,v:27.5},{d:g2775,v:27.75},{d:g278,v:27.8},{d:g2788,v:27.88},{d:g2795,v:27.96},{d:5490,v:27.97}],
  contours:[g265,g2675,g270,g2725,g2775],
  labels:[gLabelText,gLabelLat,gLabelDepth,gLabelRot]});
colorbar({left:1473,top:688,h:254,lo:24.46,hi:28.06,ticks:[24.5,25,25.5,26,26.5,27,27.5,28]});
</script></body></html>
